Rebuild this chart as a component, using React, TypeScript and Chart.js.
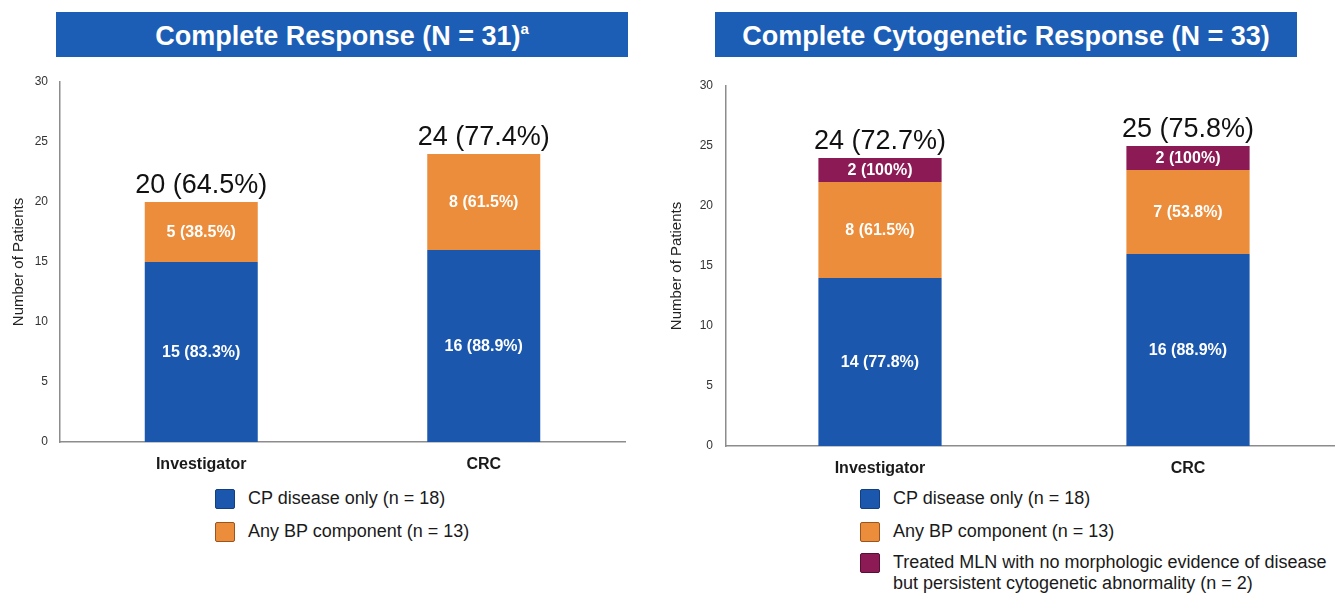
import React, { useEffect, useRef } from "react";
import { Chart, registerables } from "chart.js";

Chart.register(...registerables);

const categories = ["Investigator", "CRC"];

// Complete Response (N = 31)
const crCpValues = [15, 16];
const crCpLabels = ["15 (83.3%)", "16 (88.9%)"];
const crBpValues = [5, 8];
const crBpLabels = ["5 (38.5%)", "8 (61.5%)"];
const crTotals = ["20 (64.5%)", "24 (77.4%)"];

// Complete Cytogenetic Response (N = 33)
const ccrCpValues = [14, 16];
const ccrCpLabels = ["14 (77.8%)", "16 (88.9%)"];
const ccrBpValues = [8, 7];
const ccrBpLabels = ["8 (61.5%)", "7 (53.8%)"];
const ccrMlnValues = [2, 2];
const ccrMlnLabels = ["2 (100%)", "2 (100%)"];
const ccrTotals = ["24 (72.7%)", "25 (75.8%)"];

const yTicksMax = 30;
const yStep = 5;

const BLUE = "#1b57ad";
const ORANGE = "#eb8d3b";
const MAROON = "#8c1a55";
const TITLE_BLUE = "#1c5db6";
const FONT = "'Liberation Sans', Arial, Helvetica, sans-serif";

const stackLabels = {
  id: "stackLabels",
  afterDatasetsDraw(chart: any, _args: any, opts: any) {
    const ctx = chart.ctx;
    ctx.save();
    ctx.textAlign = "center";
    ctx.textBaseline = "middle";
    ctx.fillStyle = "#ffffff";
    ctx.font = `bold 16px ${FONT}`;
    const segs: string[][] = opts.segments || [];
    chart.data.datasets.forEach((_ds: any, di: number) => {
      const meta = chart.getDatasetMeta(di);
      meta.data.forEach((el: any, i: number) => {
        const p = el.getProps(["x", "y", "base"], true);
        const t = segs[di] && segs[di][i];
        if (t) ctx.fillText(t, p.x, (p.y + p.base) / 2 + 1);
      });
    });
    const totals: string[] = opts.totals || [];
    const lastMeta = chart.getDatasetMeta(chart.data.datasets.length - 1);
    ctx.fillStyle = "#111111";
    ctx.font = `27px ${FONT}`;
    ctx.textBaseline = "alphabetic";
    lastMeta.data.forEach((el: any, i: number) => {
      const p = el.getProps(["x", "y"], true);
      if (totals[i]) ctx.fillText(totals[i], p.x, p.y - 9);
    });
    ctx.restore();
  },
};

function makeOptions(cfg: {
  yWidth: number;
  xHeight: number;
  padTop: number;
  padRight: number;
  titlePad: number;
  tickPad: number;
  segments: string[][];
  totals: string[];
}) {
  return {
    responsive: false,
    animation: false as const,
    layout: { padding: { left: 0, right: cfg.padRight, top: cfg.padTop, bottom: 0 } },
    plugins: {
      legend: { display: false },
      tooltip: { enabled: false },
      stackLabels: { segments: cfg.segments, totals: cfg.totals },
    },
    scales: {
      x: {
        stacked: true,
        grid: { display: false, drawTicks: false },
        border: { display: true, color: "#8c8c8c", width: 1.5 },
        ticks: {
          padding: 13,
          color: "#1a1a1a",
          font: { family: FONT, size: 16, weight: "bold" as const },
        },
        afterFit: (s: any) => {
          s.height = cfg.xHeight;
        },
      },
      y: {
        stacked: true,
        min: 0,
        max: yTicksMax,
        grid: { display: false, drawTicks: false },
        border: { display: true, color: "#8c8c8c", width: 1.5 },
        ticks: {
          stepSize: yStep,
          padding: cfg.tickPad,
          color: "#333333",
          font: { family: FONT, size: 12 },
        },
        title: {
          display: true,
          text: "Number of Patients",
          color: "#222222",
          font: { family: FONT, size: 15 },
          padding: { top: cfg.titlePad, bottom: 0 },
        },
        afterFit: (s: any) => {
          s.width = cfg.yWidth;
        },
      },
    },
  };
}

function ChartCanvas(props: {
  width: number;
  height: number;
  config: any;
}) {
  const ref = useRef<HTMLCanvasElement | null>(null);
  useEffect(() => {
    if (!ref.current) return;
    const chart = new Chart(ref.current, props.config);
    return () => chart.destroy();
  }, []);
  return (
    <canvas
      ref={ref}
      width={props.width}
      height={props.height}
      style={{ width: props.width, height: props.height, display: "block" }}
    />
  );
}

function LegendItem(props: {
  color: string;
  border: string;
  top: number;
  left: number;
  lines: string[];
}) {
  return (
    <div style={{ position: "absolute", left: props.left, top: props.top }}>
      <div
        style={{
          position: "absolute",
          left: 0,
          top: 0,
          width: 20,
          height: 20,
          boxSizing: "border-box",
          background: props.color,
          border: `1.5px solid ${props.border}`,
          borderRadius: 2,
        }}
      />
      <div
        style={{
          position: "absolute",
          left: 33,
          top: -1,
          whiteSpace: "nowrap",
          fontSize: 18,
          lineHeight: "21px",
          color: "#1a1a1a",
          fontFamily: FONT,
        }}
      >
        {props.lines.map((l, i) => (
          <div key={i}>{l}</div>
        ))}
      </div>
    </div>
  );
}

export default function App() {
  const leftConfig = {
    type: "bar",
    data: {
      labels: categories,
      datasets: [
        { label: "CP disease only (n = 18)", data: crCpValues, backgroundColor: BLUE, barPercentage: 0.4, categoryPercentage: 1 },
        { label: "Any BP component (n = 13)", data: crBpValues, backgroundColor: ORANGE, barPercentage: 0.4, categoryPercentage: 1 },
      ],
    },
    options: makeOptions({
      yWidth: 60,
      xHeight: 38,
      padTop: 22,
      padRight: 35,
      titlePad: 10,
      tickPad: 12,
      segments: [crCpLabels, crBpLabels],
      totals: crTotals,
    }),
    plugins: [stackLabels],
  };

  const rightConfig = {
    type: "bar",
    data: {
      labels: categories,
      datasets: [
        { label: "CP disease only (n = 18)", data: ccrCpValues, backgroundColor: BLUE, barPercentage: 0.4, categoryPercentage: 1 },
        { label: "Any BP component (n = 13)", data: ccrBpValues, backgroundColor: ORANGE, barPercentage: 0.4, categoryPercentage: 1 },
        {
          label: "Treated MLN with no morphologic evidence of disease but persistent cytogenetic abnormality (n = 2)",
          data: ccrMlnValues,
          backgroundColor: MAROON,
          barPercentage: 0.4,
          categoryPercentage: 1,
        },
      ],
    },
    options: makeOptions({
      yWidth: 66,
      xHeight: 34,
      padTop: 26,
      padRight: 18,
      titlePad: 8,
      tickPad: 13,
      segments: [ccrCpLabels, ccrBpLabels, ccrMlnLabels],
      totals: ccrTotals,
    }),
    plugins: [stackLabels],
  };

  const titleStyle: React.CSSProperties = {
    position: "absolute",
    top: 12,
    height: 45,
    lineHeight: "49px",
    background: TITLE_BLUE,
    color: "#ffffff",
    fontFamily: FONT,
    fontWeight: "bold",
    fontSize: 27,
    textAlign: "center",
    whiteSpace: "nowrap",
    overflow: "hidden",
  };

  return (
    <div
      style={{
        position: "fixed",
        left: 0,
        top: 0,
        width: 1335,
        height: 595,
        overflow: "hidden",
        background: "#ffffff",
        fontFamily: FONT,
      }}
    >
      <div style={{ ...titleStyle, left: 56, width: 572 }}>
        Complete Response (N = 31)
        <span style={{ fontSize: 15, verticalAlign: "top", position: "relative", top: -8 }}>a</span>
      </div>
      <div style={{ ...titleStyle, left: 715, width: 582 }}>
        Complete Cytogenetic Response (N = 33)
      </div>

      <div style={{ position: "absolute", left: 0, top: 60 }}>
        <ChartCanvas width={660} height={420} config={leftConfig} />
      </div>
      <div style={{ position: "absolute", left: 660, top: 60 }}>
        <ChartCanvas width={700} height={420} config={rightConfig} />
      </div>

      <LegendItem color={BLUE} border="#123f80" left={215} top={489} lines={["CP disease only (n = 18)"]} />
      <LegendItem color={ORANGE} border="#9a5420" left={215} top={522} lines={["Any BP component (n = 13)"]} />

      <LegendItem color={BLUE} border="#123f80" left={860} top={489} lines={["CP disease only (n = 18)"]} />
      <LegendItem color={ORANGE} border="#9a5420" left={860} top={522} lines={["Any BP component (n = 13)"]} />
      <LegendItem
        color={MAROON}
        border="#5a0e36"
        left={860}
        top={553}
        lines={["Treated MLN with no morphologic evidence of disease", "but persistent cytogenetic abnormality (n = 2)"]}
      />
    </div>
  );
}
